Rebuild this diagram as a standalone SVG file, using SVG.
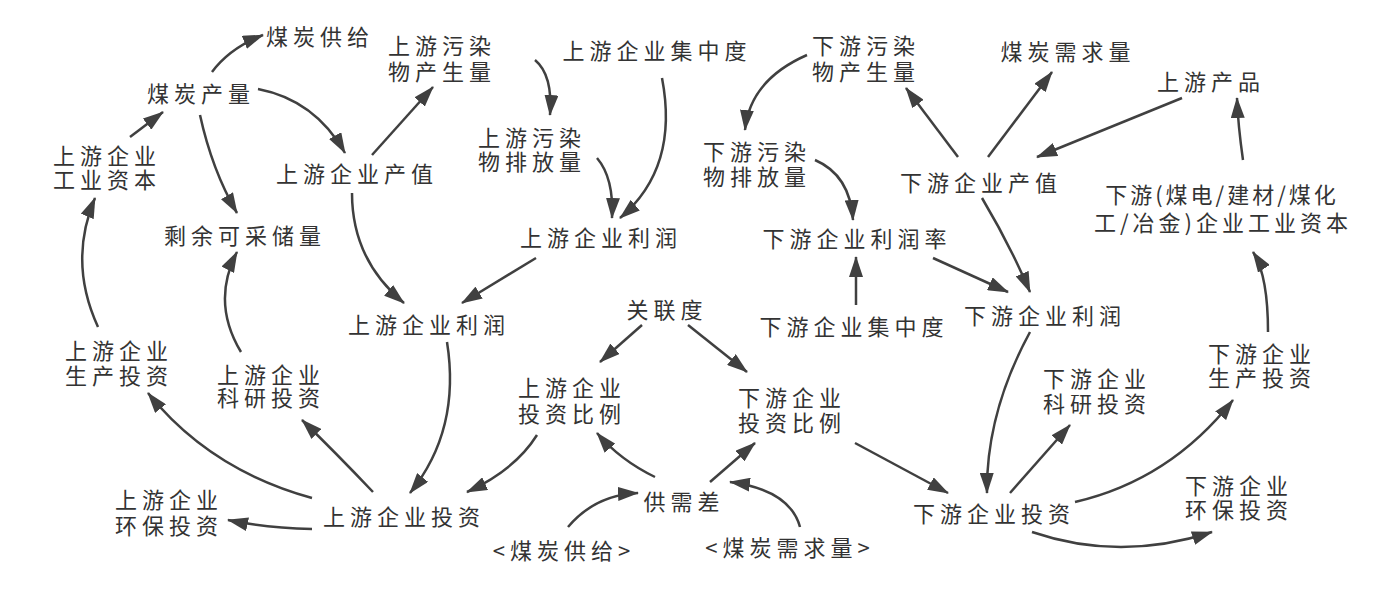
<svg xmlns="http://www.w3.org/2000/svg" width="1384" height="594" viewBox="0 0 1384 594">
<style>
text{font-family:"Noto Sans CJK SC","Noto Sans CJK TC",sans-serif;font-size:22px;fill:#333;letter-spacing:5px;text-anchor:middle}
.c path{fill:none;stroke:#404040;stroke-width:2.5;marker-end:url(#ah)}
</style>
<defs>
<marker id="ah" markerUnits="userSpaceOnUse" markerWidth="21" markerHeight="14" refX="20" refY="7" orient="auto">
<path d="M0,0 L21,7 L0,14 z" fill="#404040"/>
</marker>
</defs>
<rect width="1384" height="594" fill="#fff"/>
<g class="c" id="connectors">
<path d="M212,72 Q230,48 263,35"/>
<path d="M130,137 L163,112"/>
<path d="M258,89 Q315,100 345,153"/>
<path d="M200,115 Q212,170 237,213"/>
<path d="M372,155 L433,87"/>
<path d="M352,193 Q352,260 404,303"/>
<path d="M535,60 Q553,75 550,115"/>
<path d="M597,158 Q614,178 612,218"/>
<path d="M662,78 C672,130 665,180 620,218"/>
<path d="M536,258 L462,303"/>
<path d="M98,327 Q68,262 95,198"/>
<path d="M241,352 Q211,302 237,252"/>
<path d="M447,342 Q461,430 410,493"/>
<path d="M312,498 Q210,470 148,393"/>
<path d="M373,492 Q335,452 302,420"/>
<path d="M312,529 Q265,528 228,520"/>
<path d="M642,325 L600,362"/>
<path d="M688,325 L747,372"/>
<path d="M537,435 Q515,470 467,492"/>
<path d="M655,477 Q620,460 597,433"/>
<path d="M710,482 L755,443"/>
<path d="M568,527 Q595,495 638,493"/>
<path d="M800,527 Q790,490 730,482"/>
<path d="M807,55 Q750,80 745,130"/>
<path d="M815,160 Q850,175 853,220"/>
<path d="M856,305 L856,257"/>
<path d="M958,157 L906,88"/>
<path d="M988,157 L1052,72"/>
<path d="M1182,98 L1037,157"/>
<path d="M1243,160 Q1238,125 1237,98"/>
<path d="M982,198 Q1010,245 1030,292"/>
<path d="M933,258 L1008,292"/>
<path d="M1030,332 Q986,413 987,493"/>
<path d="M1010,493 L1070,425"/>
<path d="M1075,502 Q1170,480 1233,400"/>
<path d="M1032,532 Q1120,562 1212,532"/>
<path d="M855,443 L948,493"/>
<path d="M1268,332 Q1268,275 1253,252"/>
</g>
<g id="n-coal-supply"><text x="320" y="45">煤炭供给</text></g>
<g id="n-up-pollution-gen"><text x="442" y="54">上游污染<tspan x="442" dy="26">物产生量</tspan></text></g>
<g id="n-coal-output"><text x="201" y="102">煤炭产量</text></g>
<g id="n-up-capital"><text x="107" y="164">上游企业<tspan x="107" dy="24">工业资本</tspan></text></g>
<g id="n-up-output-value"><text x="357" y="182">上游企业产值</text></g>
<g id="n-reserves"><text x="245" y="244">剩余可采储量</text></g>
<g id="n-up-concentration"><text x="657" y="59">上游企业集中度</text></g>
<g id="n-up-emission"><text x="532" y="146">上游污染<tspan x="532" dy="24">物排放量</tspan></text></g>
<g id="n-up-profit-a"><text x="601" y="246">上游企业利润</text></g>
<g id="n-up-profit-b"><text x="429" y="333">上游企业利润</text></g>
<g id="n-up-prod-inv"><text x="119" y="359">上游企业<tspan x="119" dy="25">生产投资</tspan></text></g>
<g id="n-up-rd-inv"><text x="271" y="383">上游企业<tspan x="271" dy="23">科研投资</tspan></text></g>
<g id="n-up-env-inv"><text x="169" y="508">上游企业<tspan x="169" dy="26">环保投资</tspan></text></g>
<g id="n-up-inv"><text x="404" y="525">上游企业投资</text></g>
<g id="n-correlation"><text x="667" y="318">关联度</text></g>
<g id="n-up-ratio"><text x="572" y="396">上游企业<tspan x="572" dy="26">投资比例</tspan></text></g>
<g id="n-down-ratio"><text x="792" y="406">下游企业<tspan x="792" dy="25">投资比例</tspan></text></g>
<g id="n-gap"><text x="684" y="510">供需差</text></g>
<g id="n-coal-supply-shadow"><text x="564" y="559">&lt;煤炭供给&gt;</text></g>
<g id="n-coal-demand-shadow"><text x="790" y="556">&lt;煤炭需求量&gt;</text></g>
<g id="n-down-pollution-gen"><text x="866" y="54">下游污染<tspan x="866" dy="26">物产生量</tspan></text></g>
<g id="n-down-emission"><text x="757" y="160">下游污染<tspan x="757" dy="25">物排放量</tspan></text></g>
<g id="n-down-profit-rate"><text x="857" y="247">下游企业利润率</text></g>
<g id="n-down-concentration"><text x="854" y="335">下游企业集中度</text></g>
<g id="n-coal-demand"><text x="1068" y="60">煤炭需求量</text></g>
<g id="n-up-product"><text x="1211" y="90">上游产品</text></g>
<g id="n-down-output-value"><text x="981" y="191">下游企业产值</text></g>
<g id="n-down-capital"><text x="1222" y="203" style="letter-spacing:3px">下游(煤电/建材/煤化<tspan x="1223" dy="28" style="letter-spacing:4px">工/冶金)企业工业资本</tspan></text></g>
<g id="n-down-profit"><text x="1045" y="324">下游企业利润</text></g>
<g id="n-down-rd-inv"><text x="1097" y="387">下游企业<tspan x="1097" dy="25">科研投资</tspan></text></g>
<g id="n-down-prod-inv"><text x="1262" y="362">下游企业<tspan x="1262" dy="24">生产投资</tspan></text></g>
<g id="n-down-env-inv"><text x="1239" y="494">下游企业<tspan x="1239" dy="24">环保投资</tspan></text></g>
<g id="n-down-inv"><text x="994" y="522">下游企业投资</text></g>
</svg>
